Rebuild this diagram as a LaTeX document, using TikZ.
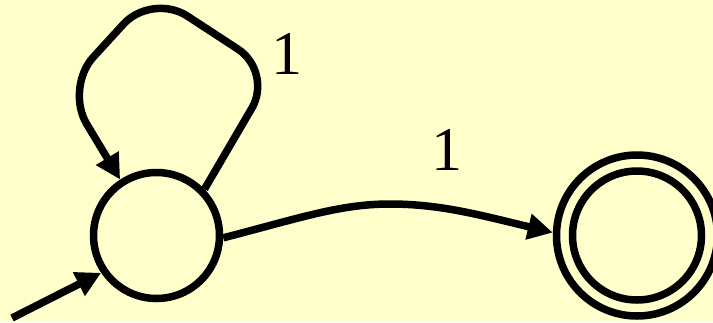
\documentclass[tikz,border=0pt]{standalone}
\usepackage{fontspec}
\setmainfont{Liberation Serif}
\usetikzlibrary{arrows.meta}
\definecolor{bgyellow}{HTML}{FFFFCC}
\begin{document}
\begin{tikzpicture}[x=1pt,y=-1pt,
  state/.style={circle,draw,line width=7.5pt,inner sep=0pt},
  edge/.style={line width=7.5pt,-{Triangle[length=25pt,width=25pt]}},
  lbl/.style={font=\fontsize{62}{70}\selectfont,inner sep=0pt}]
\fill[bgyellow] (0,0) rectangle (713,322);
\useasboundingbox (0,0) rectangle (713,322);
\node[state,minimum size=126pt] (q1) at (156.5,235.5) {};
\node[state,minimum size=161pt] (q2) at (637,235.5) {};
\node[state,minimum size=129pt] (q2in) at (637,235.5) {};
\coordinate (start) at (12,318);
\draw[edge] (start) -- (q1.214);
\draw[edge,rounded corners=42pt] (q1.44) -- (273,72) -- (152,-7) -- (65,88) -- (q1.123);
\draw[edge] (q1.-2) .. controls (300,218) and (340,204) .. (390,204)
  .. controls (440,204) and (480,215) .. (q2.178);
\node[lbl] (l1) at (287,54) {1};
\node[lbl] (l2) at (447,150) {1};
\end{tikzpicture}
\end{document}
